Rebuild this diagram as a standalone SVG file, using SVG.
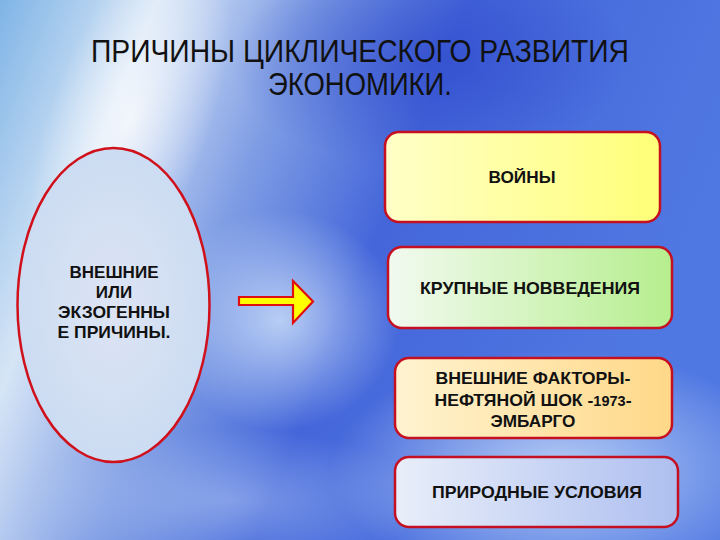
<svg xmlns="http://www.w3.org/2000/svg" width="720" height="540" viewBox="0 0 720 540">
<defs>
  <linearGradient id="bg" x1="0" y1="0" x2="1" y2="0.3">
    <stop offset="0" stop-color="#7fb4e6"/>
    <stop offset="0.2" stop-color="#d6e5f6"/>
    <stop offset="0.4" stop-color="#7f9de4"/>
    <stop offset="0.6" stop-color="#4466da"/>
    <stop offset="1" stop-color="#5078e2"/>
  </linearGradient>
  <radialGradient id="glow1" cx="0.5" cy="0.5" r="0.5">
    <stop offset="0" stop-color="#ffffff" stop-opacity="0.75"/>
    <stop offset="1" stop-color="#ffffff" stop-opacity="0"/>
  </radialGradient>
  <radialGradient id="glow2" cx="0.5" cy="0.5" r="0.5">
    <stop offset="0" stop-color="#c8dcf8" stop-opacity="0.85"/>
    <stop offset="1" stop-color="#c8dcf8" stop-opacity="0"/>
  </radialGradient>
  <radialGradient id="dark" cx="0.5" cy="0.5" r="0.5">
    <stop offset="0" stop-color="#2a44c8" stop-opacity="0.6"/>
    <stop offset="1" stop-color="#2a44c8" stop-opacity="0"/>
  </radialGradient>
  <linearGradient id="g1" x1="0" y1="0" x2="1" y2="0">
    <stop offset="0" stop-color="#ffffc8"/>
    <stop offset="1" stop-color="#ffff78"/>
  </linearGradient>
  <linearGradient id="g2" x1="0" y1="0" x2="1" y2="0">
    <stop offset="0" stop-color="#f2faf0"/>
    <stop offset="1" stop-color="#b6ee8e"/>
  </linearGradient>
  <linearGradient id="g3" x1="0" y1="0" x2="1" y2="0">
    <stop offset="0" stop-color="#fff3d0"/>
    <stop offset="1" stop-color="#ffd888"/>
  </linearGradient>
  <linearGradient id="g4" x1="0" y1="0" x2="1" y2="0">
    <stop offset="0" stop-color="#e8eef9"/>
    <stop offset="1" stop-color="#aebff0"/>
  </linearGradient>
  <radialGradient id="ell" cx="0.5" cy="0.5" r="0.5">
    <stop offset="0" stop-color="#dde4f4"/>
    <stop offset="1" stop-color="#ccdcf2"/>
  </radialGradient>
  <style>
    .box { stroke: #c41020; stroke-width: 2.5; }
    .lbl { font-family: "Liberation Sans", Arial, sans-serif; font-weight: bold; font-size: 17px; fill: #111; text-anchor: middle; }
    .title { font-family: "Liberation Sans Narrow", "Liberation Sans", Arial, sans-serif; font-size: 31px; fill: #111; text-anchor: middle; }
  </style>
</defs>

<g id="background">
  <rect width="720" height="540" fill="url(#bg)"/>
  <ellipse cx="130" cy="120" rx="80" ry="200" fill="url(#glow1)" transform="rotate(20 130 120)"/>
  <ellipse cx="560" cy="470" rx="230" ry="120" fill="url(#glow2)"/>
  <ellipse cx="280" cy="320" rx="120" ry="110" fill="url(#glow2)"/>
  <ellipse cx="430" cy="60" rx="200" ry="110" fill="url(#dark)"/>
  <ellipse cx="230" cy="500" rx="200" ry="70" fill="url(#glow2)" opacity="0.5"/>
</g>

<g id="title">
  <text class="title" x="360" y="62" textLength="538" lengthAdjust="spacingAndGlyphs">ПРИЧИНЫ  ЦИКЛИЧЕСКОГО  РАЗВИТИЯ</text>
  <text class="title" x="360" y="95" textLength="184" lengthAdjust="spacingAndGlyphs">ЭКОНОМИКИ.</text>
</g>

<g id="node-external">
  <ellipse cx="113.5" cy="305" rx="96" ry="157" fill="url(#ell)" stroke="#d0101a" stroke-width="2.5"/>
  <text class="lbl" x="114" y="278" font-size="15.5" textLength="89" lengthAdjust="spacingAndGlyphs">ВНЕШНИЕ</text>
  <text class="lbl" x="114" y="298" font-size="15.5">ИЛИ</text>
  <text class="lbl" x="114" y="318" font-size="15.5" textLength="112" lengthAdjust="spacingAndGlyphs">ЭКЗОГЕННЫ</text>
  <text class="lbl" x="114" y="338" font-size="15.5" textLength="113" lengthAdjust="spacingAndGlyphs">Е ПРИЧИНЫ.</text>
</g>

<g id="connectors">
  <path d="M239 297 L293 297 L293 281 L313 301.5 L293 323 L293 305 L239 305 Z" fill="#ffff00" stroke="#e01010" stroke-width="2.2" stroke-linejoin="miter"/>
</g>

<g id="node-wars">
  <rect class="box" x="385" y="132" width="275" height="90" rx="14" fill="url(#g1)"/>
  <text class="lbl" x="522" y="183" textLength="67" lengthAdjust="spacingAndGlyphs">ВОЙНЫ</text>
</g>

<g id="node-innovations">
  <rect class="box" x="388" y="247" width="284" height="81" rx="14" fill="url(#g2)"/>
  <text class="lbl" x="530" y="294" textLength="220" lengthAdjust="spacingAndGlyphs">КРУПНЫЕ НОВВЕДЕНИЯ</text>
</g>

<g id="node-factors">
  <rect class="box" x="395" y="358" width="277" height="80" rx="14" fill="url(#g3)"/>
  <text class="lbl" x="533" y="384" textLength="195" lengthAdjust="spacingAndGlyphs">ВНЕШНИЕ ФАКТОРЫ-</text>
  <text class="lbl" x="533" y="406" textLength="197" lengthAdjust="spacingAndGlyphs">НЕФТЯНОЙ ШОК -<tspan font-size="14">1973</tspan>-</text>
  <text class="lbl" x="533" y="427" textLength="85" lengthAdjust="spacingAndGlyphs">ЭМБАРГО</text>
</g>

<g id="node-nature">
  <rect class="box" x="395" y="457" width="283" height="70" rx="14" fill="url(#g4)"/>
  <text class="lbl" x="537" y="498" textLength="210" lengthAdjust="spacingAndGlyphs">ПРИРОДНЫЕ УСЛОВИЯ</text>
</g>
</svg>
